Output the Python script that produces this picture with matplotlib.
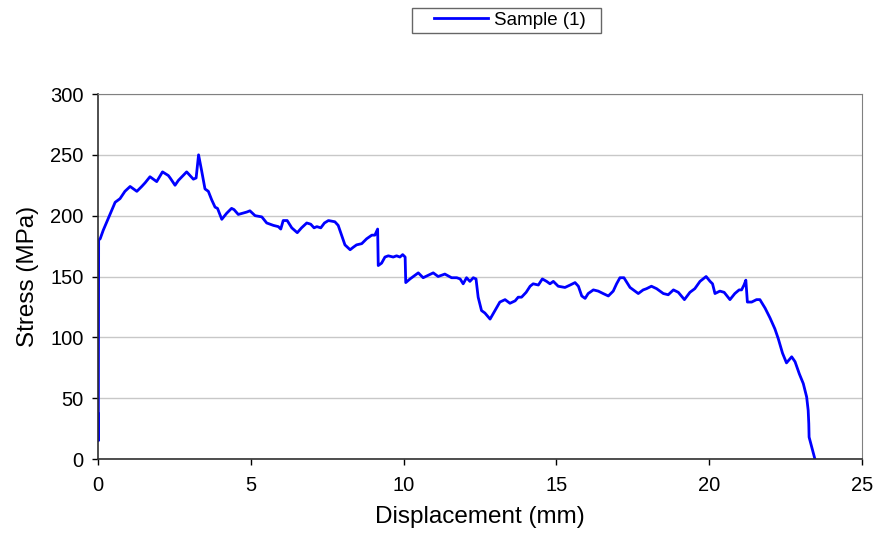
import matplotlib
matplotlib.use("Agg")
import matplotlib.pyplot as plt
from matplotlib.path import Path

plt.rcParams['font.family'] = ['Liberation Sans', 'DejaVu Sans']

# displacement (mm) and stress (MPa)
displacement = [0.0, 0.01, 0.02, 0.07, 0.17, 0.34, 0.56, 0.72, 0.88, 1.05, 1.27, 1.43, 1.54,
                1.70, 1.92, 2.11, 2.30, 2.36, 2.52, 2.63, 2.90, 3.12, 3.21, 3.29, 3.39,
                3.50, 3.61, 3.72, 3.83, 3.91, 4.05, 4.21, 4.37, 4.45, 4.59, 4.87, 4.97,
                5.14, 5.36, 5.52, 5.74, 5.90, 5.98, 6.06, 6.19, 6.34, 6.52, 6.66, 6.83,
                6.96, 7.07, 7.16, 7.29, 7.41, 7.54, 7.75, 7.86, 7.97, 8.08, 8.25, 8.35,
                8.46, 8.63, 8.79, 8.96, 9.06, 9.15, 9.17, 9.28, 9.39, 9.50, 9.66, 9.77,
                9.88, 9.97, 10.05, 10.07, 10.21, 10.48, 10.64, 10.97, 11.13, 11.35, 11.57,
                11.74, 11.85, 11.95, 12.06, 12.17, 12.28, 12.37, 12.44, 12.55, 12.66,
                12.83, 12.99, 13.15, 13.32, 13.48, 13.65, 13.75, 13.86, 14.01, 14.14,
                14.24, 14.41, 14.54, 14.68, 14.79, 14.90, 15.06, 15.28, 15.45, 15.61,
                15.72, 15.83, 15.94, 16.04, 16.21, 16.37, 16.53, 16.70, 16.86, 16.97,
                17.08, 17.21, 17.41, 17.68, 17.84, 17.95, 18.11, 18.28, 18.50, 18.66,
                18.83, 18.99, 19.19, 19.37, 19.53, 19.70, 19.90, 20.03, 20.11, 20.19,
                20.35, 20.49, 20.68, 20.84, 20.98, 21.06, 21.14, 21.20, 21.25, 21.39,
                21.55, 21.66, 21.83, 21.99, 22.15, 22.26, 22.40, 22.53, 22.70, 22.81,
                22.95, 23.08, 23.19, 23.24, 23.26, 23.27, 23.46]
stress = [37, 15, 180, 181, 188, 198, 211, 214, 220, 224, 220, 224, 227,
          232, 228, 236, 233, 231, 225, 229, 236, 230, 231, 250, 237,
          222, 220, 213, 207, 206, 197, 202, 206, 205, 201, 203, 204,
          200, 199, 194, 192, 191, 189, 196, 196, 190, 186, 190, 194,
          193, 190, 191, 190, 194, 196, 195, 192, 184, 176, 172, 174,
          176, 177, 181, 184, 184, 189, 159, 161, 166, 167, 166, 167,
          166, 168, 166, 145, 148, 153, 149, 153, 150, 152, 149,
          149, 148, 144, 149, 146, 149, 148, 133, 122, 120,
          115, 122, 129, 131, 128, 130, 133, 133, 137, 142,
          144, 143, 148, 146, 144, 146, 142, 141, 143, 145,
          142, 134, 132, 136, 139, 138, 136, 134, 138, 144,
          149, 149, 141, 136, 139, 140, 142, 140, 136, 135,
          139, 137, 131, 137, 140, 146, 150, 146, 144, 136,
          138, 137, 131, 136, 139, 139, 143, 147, 129, 129,
          131, 131, 124, 116, 107, 99, 87, 79, 84, 80,
          70, 62, 51, 40, 29, 18, 0]

x_ticks = [0, 5, 10, 15, 20, 25]
y_ticks = [0, 50, 100, 150, 200, 250, 300]


def wide_box(x0, y0, width, height, mutation_size):
    # legend frame with extra room left/right of the entry (excel style)
    left, right = 18, 11
    return Path([(x0 - left, y0), (x0 + width + right, y0),
                 (x0 + width + right, y0 + height), (x0 - left, y0 + height),
                 (x0 - left, y0)], closed=True)


fig = plt.figure(figsize=(8.8, 5.39), dpi=100)
ax = fig.add_axes([0.1114, 0.1484, 0.8681, 0.6772])

ax.plot(displacement, stress, color='#0000ff', linewidth=2.0, label='Sample (1)')

ax.set_xlim(0, 25)
ax.set_ylim(0, 300)
ax.set_xticks(x_ticks)
ax.set_yticks(y_ticks)
ax.tick_params(axis='both', direction='out', length=4.5, width=1, labelsize=14.5, color='black')
ax.tick_params(axis='y', pad=6)
ax.tick_params(axis='x', pad=8)
ax.grid(True, axis='y', color='#c8c8c8', linewidth=1)
ax.set_axisbelow(True)

for side in ['top', 'right']:
    ax.spines[side].set_color('#808080')
for side in ['left', 'bottom']:
    ax.spines[side].set_color('#303030')
    ax.spines[side].set_linewidth(1.2)

ax.set_xlabel('Displacement (mm)', fontsize=17.5, labelpad=8)
ax.set_ylabel('Stress (MPa)', fontsize=17.5, labelpad=8)

leg = fig.legend(loc='upper center', bbox_to_anchor=(0.5795, 0.9852), fontsize=13.5,
                 frameon=True, fancybox=False, handlelength=2.9, handletextpad=0.32,
                 borderpad=0.2, borderaxespad=0)
leg.get_frame().set_boxstyle(wide_box)
leg.get_frame().set_edgecolor('#404040')
leg.get_frame().set_linewidth(1)

fig.savefig('out.png', dpi=100)
